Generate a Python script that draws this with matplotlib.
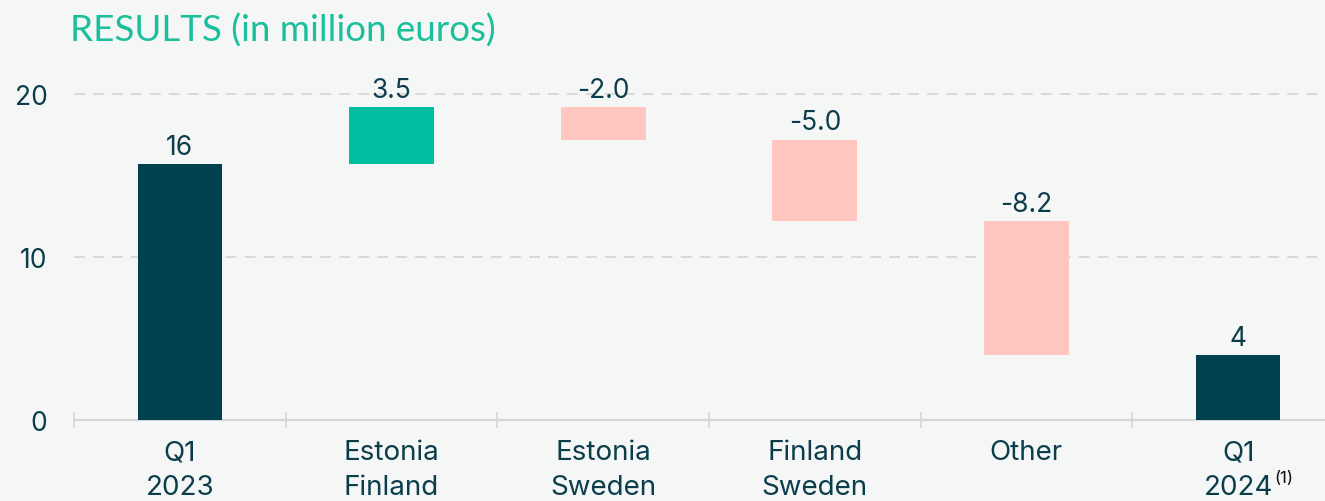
import matplotlib
matplotlib.use("Agg")
import matplotlib.pyplot as plt
import numpy as np

# data
categories = ["Q1\n2023", "Estonia\nFinland", "Estonia\nSweden", "Finland\nSweden", "Other", "Q1\n2024"]
start_value = 15.7
deltas = [3.5, -2.0, -5.0, -8.2]
value_labels = ["16", "3.5", "-2.0", "-5.0", "-8.2", "4"]
yticks = [0, 10, 20]

# colours
bg = "#f5f6f6"
dark = "#01414f"
green = "#00bfa0"
pink = "#ffc7bf"
text_col = "#0b3d4a"
grid_col = "#d6d6d6"

plt.rcParams["font.family"] = ["Inter", "DejaVu Sans"]

# waterfall geometry
end_value = start_value + sum(deltas)
levels = np.concatenate([[start_value], start_value + np.cumsum(deltas)])
bottoms = [0] + [min(levels[i], levels[i + 1]) for i in range(len(deltas))] + [0]
heights = [start_value] + [abs(d) for d in deltas] + [end_value]
tops = [b + h for b, h in zip(bottoms, heights)]
colors = [dark] + [green if d > 0 else pink for d in deltas] + [dark]

fig = plt.figure(figsize=(13.25, 5.02), dpi=100, facecolor=bg)
ax = fig.add_axes([74 / 1325, 1 - 421 / 502, 1270 / 1325, 21.5 * 16.3 / 502])
ax.set_facecolor(bg)

x = np.arange(len(categories))
ax.bar(x, heights, bottom=bottoms, width=0.4, color=colors, zorder=3)

for xi, top, lab in zip(x, tops, value_labels):
    ax.annotate(lab, xy=(xi, top), xytext=(0, 3), textcoords="offset points",
                ha="center", va="bottom", fontsize=19, color=text_col, zorder=4)

ax.set_xlim(-0.5, len(categories) - 0.5)
ax.set_ylim(0, 21.5)

# grid lines
for yv in yticks[1:]:
    ax.axhline(yv, color=grid_col, lw=1.3, ls=(0, (6, 4.5)), zorder=1)

for s in ["top", "right", "left"]:
    ax.spines[s].set_visible(False)
ax.spines["bottom"].set_color(grid_col)
ax.spines["bottom"].set_linewidth(1.5)

ax.set_yticks(yticks)
ax.set_yticklabels([str(v) for v in yticks])
ax.tick_params(axis="y", length=0, pad=19, labelsize=19, labelcolor=text_col)

ax.set_xticks(x)
ax.set_xticklabels(categories, linespacing=1.42)
ax.tick_params(axis="x", which="major", length=0, pad=14, labelsize=20, labelcolor=text_col)
ax.set_xticks(np.arange(-0.5, len(categories), 1.0), minor=True)
ax.tick_params(axis="x", which="minor", direction="inout", length=12, width=1.2, color=grid_col)

# footnote marker on last label
ax.annotate("(1)", xy=(x[-1], 0), xytext=(33, -41.5), textcoords="offset points",
            ha="center", va="center", fontsize=12, color="#111111")

fig.text(70 / 1325, 1 - 42 / 502, "RESULTS (in million euros)", fontsize=26.5,
         color="#1bbf9c", ha="left", va="baseline", family=["Lato", "DejaVu Sans"])

fig.savefig("out.png", dpi=100, facecolor=bg)
